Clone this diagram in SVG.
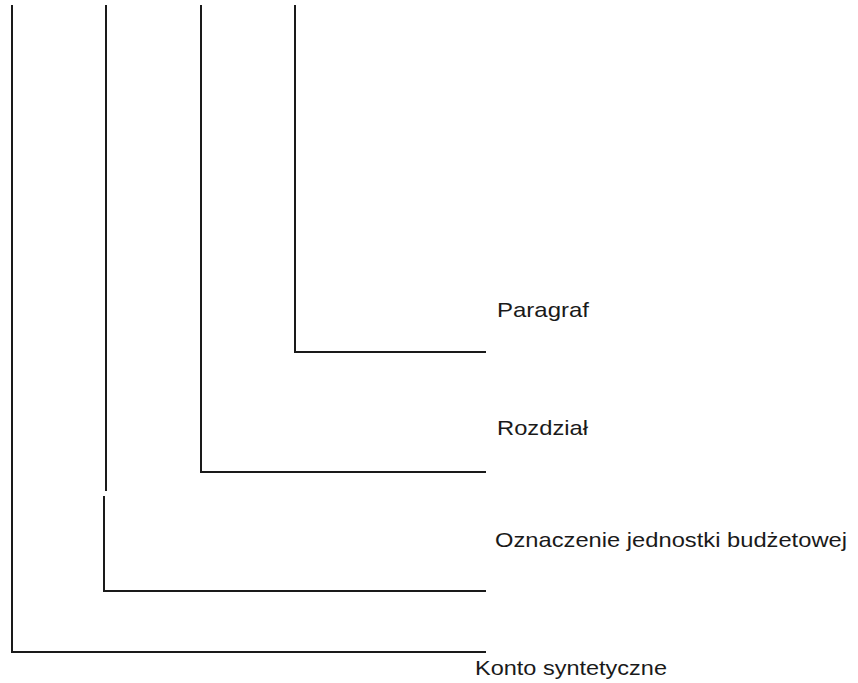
<svg xmlns="http://www.w3.org/2000/svg" width="858" height="683" viewBox="0 0 858 683">
<style>
.ln{fill:none;stroke:#1a1a1a;stroke-width:2}
.lb{font-family:"Liberation Sans",Arial,sans-serif;font-size:21px;fill:#1a1a1a}
</style>
<rect width="858" height="683" fill="#fff"/>
<g id="connectors">
<polyline class="ln" points="12,5 12,652 486,652"/>
<polyline class="ln" points="106,5 106,491"/>
<polyline class="ln" points="104,496 104,591 486,591"/>
<polyline class="ln" points="201,5 201,472 486,472"/>
<polyline class="ln" points="295,5 295,352 486,352"/>
</g>
<g id="paragraf"><text class="lb" x="497" y="317" textLength="92" lengthAdjust="spacingAndGlyphs">Paragraf</text></g>
<g id="rozdzial"><text class="lb" x="497" y="435" textLength="91" lengthAdjust="spacingAndGlyphs">Rozdział</text></g>
<g id="oznaczenie"><text class="lb" x="495" y="547" textLength="352" lengthAdjust="spacingAndGlyphs">Oznaczenie jednostki budżetowej</text></g>
<g id="konto"><text class="lb" x="475" y="675" textLength="192" lengthAdjust="spacingAndGlyphs">Konto syntetyczne</text></g>
</svg>
